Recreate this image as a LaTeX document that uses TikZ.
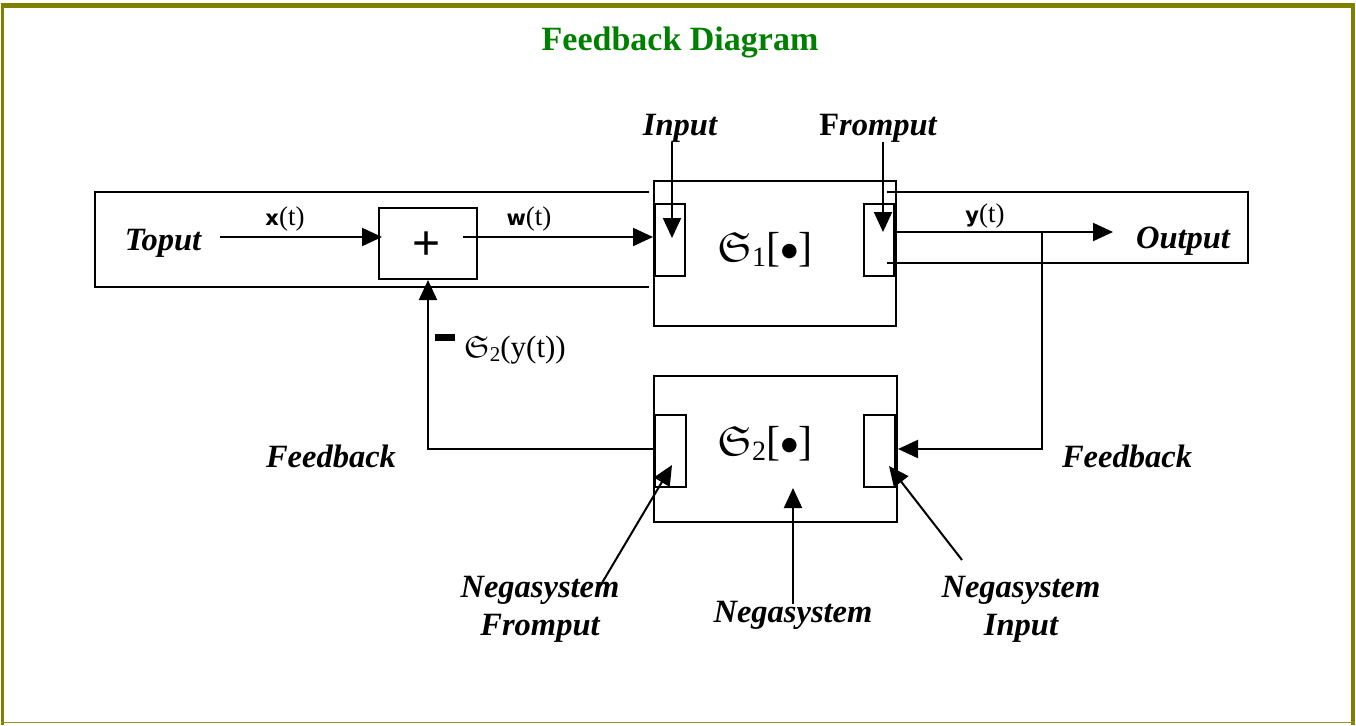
\documentclass[tikz,border=0pt]{standalone}
\usepackage{fontspec}
\setmainfont{Liberation Serif}
\newfontfamily\sansbold{DejaVu Sans}
\newfontfamily\plusfont{Liberation Sans}
\newfontfamily\symfont{DejaVu Sans}
\usetikzlibrary{arrows.meta}
\DeclareFontFamily{U}{myeuf}{}
\DeclareFontShape{U}{myeuf}{m}{n}{<-> eufm10}{}
\newcommand{\frakS}{{\usefont{U}{myeuf}{m}{n}S}}
\newcommand{\bigdot}{\raisebox{5pt}{\symfont\fontsize{19}{19}\selectfont ●}}
\definecolor{frameolive}{HTML}{808000}
\definecolor{titlegreen}{HTML}{008000}
\begin{document}
\begin{tikzpicture}[x=1pt,y=-1pt,
  ln/.style={line width=2pt},
  arr/.style={line width=2pt,-{Triangle[length=20pt,width=18pt]}},
  blk/.style={draw,line width=2pt,inner sep=0pt,rectangle},
  lbl/.style={font=\fontsize{32.5}{36}\selectfont\bfseries\itshape,inner sep=0pt,anchor=base},
  sig/.style={font=\fontsize{27}{30}\selectfont,inner sep=0pt,anchor=base},
  sysl/.style={font=\fontsize{42}{46}\selectfont,inner sep=0pt,anchor=base}]
\useasboundingbox (0,0) rectangle (1356,725);
% frame
\fill[white] (0,0) rectangle (1356,725);
\fill[frameolive] (1,3) rectangle (1355,8.5);
\fill[frameolive] (1,3) rectangle (4,725);
\fill[frameolive] (1351,3) rectangle (1355,725);
\draw[frameolive!85,line width=1.5pt] (1,722.5) -- (1355,722.5);
% title
\node[font=\fontsize{34}{36}\selectfont\bfseries,text=titlegreen,inner sep=0pt,anchor=base] (title) at (680,51) {Feedback Diagram};
% boxes
\node[blk,minimum width=98pt,minimum height=71pt] (plus) at (428,243.5) {};
\node[font=\plusfont\fontsize{48}{48}\selectfont,inner sep=0pt] (plussym) at (427,246) {+};
\node[blk,minimum width=242pt,minimum height=145pt] (s1) at (775,253.5) {};
\node[blk,minimum width=30pt,minimum height=72pt] (in1) at (670,240) {};
\node[blk,minimum width=30pt,minimum height=72pt] (fr1) at (879,240) {};
\node[blk,minimum width=243pt,minimum height=146pt] (s2) at (775.5,449) {};
\node[blk,minimum width=31pt,minimum height=72pt] (in2) at (670,451) {};
\node[blk,minimum width=31pt,minimum height=72pt] (fr2) at (879.5,451) {};
% system labels
\node[sysl] (s1lbl) at (765,261) {\frakS\raisebox{-5pt}{\fontsize{28}{28}\selectfont 1}[\kern1pt\bigdot\kern1pt]};
\node[sysl] (s2lbl) at (765,455) {\frakS\raisebox{-5pt}{\fontsize{28}{28}\selectfont 2}[\kern1pt\bigdot\kern1pt]};
% bands
\coordinate (lbt) at (649,192);
\coordinate (lbb) at (649,287);
\draw[ln] (lbt) -| (95,287) -- (lbb);
\coordinate (rbt) at (887,192);
\coordinate (rbb) at (887,263);
\draw[ln] (rbt) -| (1248,263) -- (rbb);
% labels
\node[lbl] (toput) at (163,250) {Toput};
\node[lbl] (output) at (1183,248) {Output};
\node[lbl] (inlbl) at (680,135) {Input};
\node[lbl] (frlbl) at (878,135) {\upshape F\itshape romput};
\node[lbl] (fbl) at (331,467) {Feedback};
\node[lbl] (fbr) at (1127,467) {Feedback};
\node[lbl] (nf1) at (540,597) {Negasystem};
\node[lbl] (nf2) at (540,635) {Fromput};
\node[lbl] (nm) at (793,622) {Negasystem};
\node[lbl] (ni1) at (1021,597) {Negasystem};
\node[lbl] (ni2) at (1021,635) {Input};
% signal labels
\node[sig] (xl) at (285,225) {{\sansbold\bfseries\fontsize{21}{24}\selectfont x}(t)};
\node[sig] (wl) at (529,225) {{\sansbold\bfseries\fontsize{21}{24}\selectfont w}(t)};
\node[sig] (yl) at (985,222) {{\sansbold\bfseries\fontsize{21}{24}\selectfont y}(t)};
\fill (435,334) rectangle (455,341);
\node[font=\fontsize{31}{34}\selectfont,inner sep=0pt,anchor=base west] (fbsig) at (464,357) {\frakS\raisebox{-4pt}{\fontsize{21}{21}\selectfont 2}(y(t))};
% connectors
\coordinate (xs) at (220,237);
\draw[arr] (xs) -- ([xshift=4pt]xs -| plus.west);
\draw[arr] ([xshift=-15pt]plus.east |- xs) -- (xs -| s1.west);
\coordinate (inarr) at (672,142);
\draw[arr] (inarr) -- (672,238);
\coordinate (frarr) at (883,142);
\draw[arr] (frarr) -- (883,232);
\coordinate (ys) at (894,232);
\coordinate (ye) at (1113,232);
\draw[arr] (ys) -- (ye);
\coordinate (br) at (1042,232);
\draw[arr] (br) |- (s2.east);
\draw[arr] (s2.west) -| (plus.south);
\coordinate (nfe) at (599,588);
\draw[arr] (nfe) -- (672,465);
\coordinate (nme) at (793,604);
\draw[arr] (nme) -- (793,488);
\coordinate (nie) at (962,560);
\draw[arr] (nie) -- (889,466);
\end{tikzpicture}
\end{document}
